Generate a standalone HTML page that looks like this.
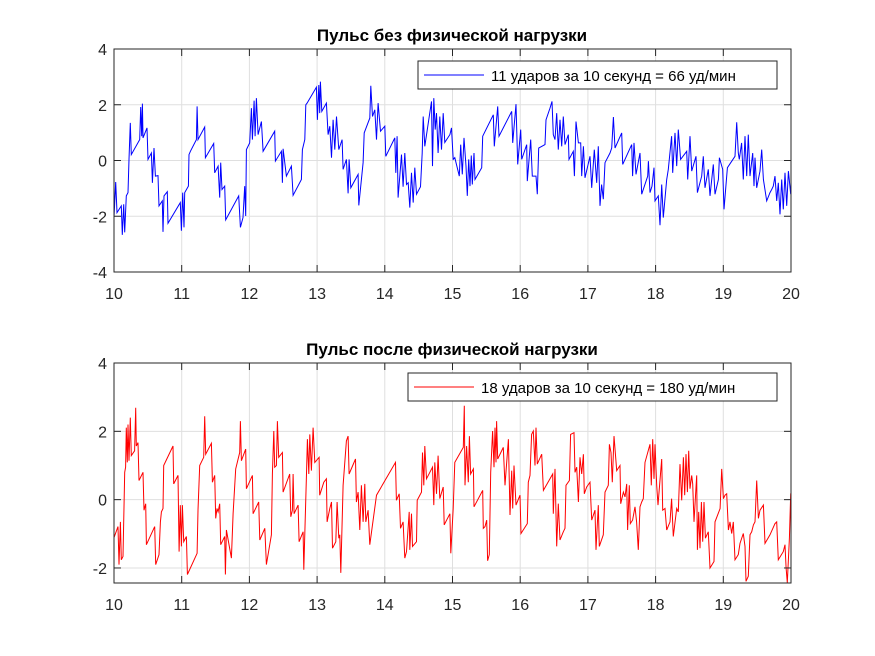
<!DOCTYPE html>
<html><head><meta charset="utf-8"><style>
body{margin:0;background:#fff;}
svg{display:block;font-family:"Liberation Sans",sans-serif;}
</style></head><body>
<svg id="fig" width="875" height="656" viewBox="0 0 875 656" xmlns="http://www.w3.org/2000/svg">
<rect width="875" height="656" fill="#fff"/>
</svg>
<script>
const xTicks=[10,11,12,13,14,15,16,17,18,19,20];
const topYTicks=[-4,-2,0,2,4];
const botYTicks=[-2,0,2,4];
const topT=[10.000,10.025,10.044,10.108,10.123,10.143,10.158,10.182,10.207,10.222,10.241,10.256,10.379,10.394,10.409,10.419,10.429,10.488,10.502,10.552,10.567,10.591,10.611,10.650,10.665,10.714,10.724,10.739,10.788,10.798,10.980,10.995,11.015,11.034,11.044,11.099,11.108,11.128,11.217,11.227,11.241,11.340,11.350,11.473,11.488,11.537,11.562,11.576,11.596,11.635,11.650,11.842,11.867,11.906,11.931,11.946,11.956,12.005,12.030,12.044,12.069,12.084,12.103,12.128,12.177,12.202,12.374,12.384,12.473,12.488,12.498,12.547,12.621,12.645,12.768,12.783,12.818,12.833,12.852,12.990,13.005,13.025,13.039,13.049,13.069,13.138,13.163,13.187,13.212,13.236,13.261,13.286,13.320,13.369,13.384,13.433,13.458,13.473,13.498,13.606,13.616,13.680,13.695,13.778,13.793,13.818,13.852,13.877,13.901,13.936,14.000,14.015,14.148,14.163,14.182,14.197,14.246,14.271,14.296,14.320,14.345,14.369,14.394,14.419,14.443,14.468,14.527,14.552,14.567,14.591,14.690,14.704,14.724,14.744,14.764,14.788,14.813,14.837,14.862,14.887,14.961,14.985,15.010,15.034,
15.101,15.121,15.145,15.170,15.199,15.219,15.239,15.258,15.278,15.293,15.318,15.332,15.431,15.446,15.603,15.618,15.667,15.687,15.874,15.889,15.938,15.963,16.007,16.022,16.096,16.105,16.155,16.179,16.233,16.253,16.273,16.366,16.381,16.440,16.470,16.489,16.514,16.539,16.563,16.588,16.613,16.637,16.662,16.711,16.721,16.785,16.800,16.824,16.859,16.893,16.908,16.933,16.957,17.031,17.056,17.095,17.130,17.154,17.179,17.203,17.228,17.253,17.326,17.351,17.376,17.400,17.499,17.514,17.647,17.661,17.681,17.711,17.770,17.794,17.883,17.893,17.917,17.947,17.976,17.991,18.040,18.065,18.090,18.114,18.164,18.188,18.237,18.252,18.287,18.311,18.336,18.370,18.459,18.474,18.508,18.533,18.597,18.617,18.681,18.705,18.730,18.779,18.804,18.853,18.878,18.927,18.942,18.991,19.011,19.060,19.173,19.198,19.222,19.237,19.271,19.296,19.321,19.345,19.370,19.395,19.434,19.454,19.468,19.493,19.542,19.567,19.592,19.641,19.690,19.715,19.739,19.764,19.789,19.813,19.838,19.863,19.887,19.912,19.937,19.961,19.996,20.010];
const topV=[-2.05,-0.77,-1.87,-1.63,-2.67,-1.57,-2.58,-1.27,-1.15,0.04,1.35,0.21,0.75,1.92,0.87,2.04,0.81,1.17,0.04,0.27,-0.80,0.45,-0.56,-0.54,-1.63,-1.45,-2.56,-1.27,-1.12,-2.25,-1.51,-2.52,-1.15,-2.40,-1.15,-0.92,0.21,0.33,0.75,1.94,0.75,1.20,0.10,0.61,-0.44,-0.20,-1.33,-0.08,-1.04,-0.92,-2.13,-1.27,-2.40,-2.05,-0.92,-1.99,0.39,0.63,1.88,0.75,2.15,0.87,2.24,0.93,1.40,0.33,1.05,-0.02,0.33,-0.80,0.42,-0.56,-0.20,-1.25,-0.68,0.39,0.75,2.00,2.06,2.63,1.46,2.71,1.70,2.83,1.76,2.06,0.93,1.23,0.10,1.46,0.39,1.58,0.39,0.75,-0.32,0.04,-1.18,0.04,-0.98,-0.50,-1.61,-0.08,0.99,1.52,2.68,1.58,1.82,0.75,2.06,1.05,1.23,0.15,0.81,-0.44,0.87,-1.33,0.21,-0.94,0.27,-0.86,-0.80,-1.69,-0.44,-1.51,-0.26,-1.21,-0.94,0.27,1.58,0.51,2.12,-0.20,2.24,1.11,1.70,0.27,1.58,0.39,1.70,0.65,0.93,1.17,0.04,0.10,
-0.56,0.57,-0.50,0.81,-0.20,-1.27,0.04,-0.92,0.18,-0.86,0.27,-0.68,-0.26,0.87,1.64,0.51,1.94,0.87,1.76,0.63,2.02,-0.14,1.11,0.04,0.57,-0.74,0.75,-0.56,-0.56,-1.21,0.45,0.57,1.46,1.88,2.12,0.93,0.75,1.70,0.39,1.46,0.51,1.58,0.57,0.93,0.04,0.33,-0.56,1.40,0.63,0.63,-0.56,0.51,-0.62,0.15,-0.98,0.39,-0.80,0.51,-1.63,-0.86,-1.39,-0.08,0.27,0.45,1.56,0.45,0.99,-0.14,0.57,-0.56,0.63,-0.50,0.27,-1.21,-0.56,-0.02,-1.15,-0.92,-0.26,-1.45,-1.27,-2.32,-0.86,-2.05,-0.68,-0.32,0.87,-0.44,0.99,-0.20,1.11,0.04,0.33,-0.68,0.87,-0.38,0.15,-1.15,-0.56,0.15,-0.98,-0.32,-1.27,-0.14,-1.21,-0.68,0.10,-0.32,-1.75,-0.26,0.15,1.37,0.27,0.04,0.63,-0.68,0.87,-0.56,0.93,-0.56,0.27,-0.92,0.10,-0.98,-0.38,0.39,-0.68,-1.45,-1.15,-1.04,-0.92,-0.56,-1.45,-0.80,-1.93,-0.68,-1.75,-0.44,-1.63,-0.38,-1.21,-0.08];
const botT=[10.000,10.059,10.074,10.094,10.108,10.133,10.158,10.172,10.182,10.197,10.207,10.222,10.241,10.256,10.305,10.320,10.330,10.355,10.369,10.429,10.443,10.468,10.478,10.601,10.616,10.665,10.685,10.700,10.724,10.734,10.872,10.882,10.946,10.961,10.980,10.995,11.010,11.030,11.069,11.084,11.227,11.241,11.266,11.325,11.340,11.355,11.438,11.453,11.488,11.502,11.522,11.537,11.562,11.576,11.635,11.645,11.660,11.734,11.759,11.798,11.857,11.867,11.882,11.946,11.956,12.044,12.054,12.138,12.153,12.227,12.251,12.325,12.340,12.360,12.374,12.399,12.414,12.433,12.488,12.498,12.596,12.611,12.635,12.645,12.660,12.719,12.734,12.793,12.803,12.842,12.857,12.877,12.892,12.916,12.941,12.966,13.030,13.039,13.099,13.138,13.148,13.187,13.212,13.227,13.276,13.296,13.320,13.335,13.350,13.384,13.433,13.458,13.473,13.567,13.581,13.606,13.631,13.655,13.680,13.704,13.719,13.754,13.778,13.877,14.158,14.172,14.212,14.232,14.271,14.296,14.320,14.360,14.369,14.394,14.409,14.468,14.478,14.542,14.557,14.576,14.591,14.616,14.704,14.724,14.739,14.764,14.788,14.813,14.862,14.877,14.961,14.975,15.010,15.034,
15.160,15.175,15.185,15.209,15.234,15.249,15.268,15.308,15.318,15.446,15.455,15.480,15.505,15.519,15.544,15.564,15.593,15.613,15.628,15.643,15.652,15.667,15.751,15.775,15.825,15.849,15.874,15.889,15.908,15.938,15.997,16.012,16.105,16.120,16.145,16.169,16.194,16.219,16.233,16.253,16.317,16.342,16.480,16.489,16.514,16.539,16.563,16.588,16.637,16.662,16.677,16.726,16.745,16.795,16.809,16.834,16.859,16.883,16.908,16.933,16.947,16.982,17.031,17.056,17.105,17.120,17.154,17.169,17.228,17.253,17.302,17.317,17.341,17.361,17.386,17.425,17.474,17.484,17.524,17.548,17.573,17.587,17.612,17.627,17.661,17.696,17.720,17.745,17.770,17.794,17.819,17.844,17.917,17.937,17.957,17.976,17.991,18.016,18.035,18.090,18.105,18.139,18.164,18.213,18.237,18.262,18.311,18.336,18.361,18.385,18.410,18.430,18.449,18.469,18.489,18.508,18.533,18.548,18.567,18.607,18.617,18.636,18.656,18.676,18.695,18.715,18.735,18.779,18.804,18.863,18.878,18.952,18.976,19.001,19.025,19.050,19.075,19.099,19.124,19.148,19.173,19.222,19.247,19.296,19.321,19.336,19.370,19.395,19.419,19.444,19.468,19.493,19.518,19.542,19.592,19.616,19.690,19.764,19.789,19.813,19.887,19.912,19.927,19.946,19.976,19.996,20.010];
const botV=[-1.11,-0.79,-1.90,-0.65,-1.76,-1.66,0.80,0.95,2.11,1.09,2.20,1.14,2.40,1.29,1.43,2.69,1.57,1.67,0.56,0.80,-0.31,-0.12,-1.32,-0.79,-1.90,-1.61,-0.65,-0.36,-0.26,1.00,1.57,0.46,0.71,-1.52,-0.16,-1.37,-0.16,-1.23,-1.08,-2.19,-1.57,-0.31,1.00,1.24,2.44,1.33,1.65,0.51,0.71,-0.55,-0.26,-0.36,-0.12,-1.32,-1.08,-2.19,-0.89,-1.71,-0.41,0.90,1.38,2.30,1.14,1.48,0.32,0.71,-0.41,-0.07,-1.18,-0.84,-1.90,-1.03,0.75,2.01,0.95,1.00,2.30,1.24,1.38,0.22,0.75,-0.50,-0.31,0.75,-0.41,-0.16,-1.23,-0.94,-2.05,0.66,1.77,0.75,1.91,0.85,2.11,1.09,1.24,0.13,0.51,0.61,-0.65,-0.26,-0.07,-1.42,-1.23,-0.07,-1.13,-1.03,-2.14,0.42,1.72,1.86,0.75,1.19,-0.07,0.22,-0.89,0.42,-0.65,0.46,-0.65,-0.31,-1.32,0.13,1.09,-0.02,0.17,-0.84,-0.65,-1.71,-1.52,-0.36,-1.47,-0.41,-1.37,-1.23,-0.02,0.22,1.38,0.42,1.57,0.61,0.95,-0.16,1.09,0.17,1.29,0.03,0.37,-0.74,-0.41,-1.57,-0.26,1.09,
1.53,2.75,0.42,1.57,0.51,1.86,0.75,0.90,-0.21,0.27,-0.84,-0.79,-0.60,-1.79,-1.61,0.80,2.01,0.95,2.11,1.09,2.30,1.19,1.53,0.42,1.77,-0.45,0.85,-0.26,1.00,-0.16,0.13,-0.99,-0.70,0.51,0.71,1.91,2.01,1.00,2.11,1.04,1.33,0.27,0.75,-0.41,0.90,-1.37,-0.12,-1.18,-0.94,-0.84,0.42,0.56,1.91,1.96,0.80,0.95,-0.07,1.24,0.75,1.33,0.17,0.37,0.51,-0.60,-0.31,-1.47,-0.16,-1.37,-1.03,0.22,0.42,1.62,1.38,0.51,1.86,0.85,1.00,-0.12,0.22,0.08,0.46,-0.89,0.42,-0.70,-0.60,-0.21,-0.65,-1.47,-0.21,-0.07,0.03,1.09,1.62,0.42,1.77,0.61,1.62,0.42,-0.16,1.19,-0.31,-0.26,-0.89,-0.65,0.03,-1.08,-0.26,-0.36,1.04,-0.02,1.24,0.13,1.33,0.22,1.43,0.32,0.71,0.46,-0.65,0.71,-1.47,-0.36,-1.42,-0.07,-1.23,-0.07,-1.13,-0.94,-2.00,-1.81,-0.65,-0.26,0.90,0.03,0.13,0.17,-0.89,-0.65,-0.99,-0.65,-1.76,-1.61,-1.28,-0.99,-1.37,-2.39,-2.24,-1.03,-0.94,-0.74,-0.65,0.56,-0.55,-0.31,-0.16,-1.28,-1.03,-0.70,-0.65,-1.76,-1.52,-1.32,-2.00,-2.43,-1.13,0.17,0.22];

const NS='http://www.w3.org/2000/svg';
const svg=document.getElementById('fig');
function mk(tag,attrs,parent){const e=document.createElementNS(NS,tag);for(const k in attrs)e.setAttribute(k,attrs[k]);(parent||svg).appendChild(e);return e;}

function panel(cfg){
  const g=mk('g',{});
  
  
  const L=114,R=791,T=cfg.top,B=cfg.bottom;
  const xs=t=>L+(t-10)/10*(R-L);
  const ys=v=>B-(v-cfg.ymin)/(cfg.ymax-cfg.ymin)*(B-T);
  // grid
  xTicks.forEach(t=>{const l=mk('line',{x1:xs(t),x2:xs(t),y1:T,y2:B,stroke:'#dfdfdf','stroke-width':1},g);
    });
  cfg.yticks.forEach(v=>{const l=mk('line',{x1:L,x2:R,y1:ys(v),y2:ys(v),stroke:'#dfdfdf','stroke-width':1},g);
    });
  // clip
  const cid='clip'+cfg.name;
  const cp=mk('clipPath',{id:cid},g);mk('rect',{x:L,y:T,width:R-L,height:B-T},cp);
  let d='';cfg.t.forEach((t,i)=>{d+=(i?'L':'M')+xs(t).toFixed(1)+' '+ys(cfg.v[i]).toFixed(1);});
  const p=mk('path',{d:d,fill:'none',stroke:cfg.color,'stroke-width':1,'clip-path':'url(#'+cid+')'},g);
  
  
  // box
  const box=mk('rect',{x:L,y:T,width:R-L,height:B-T,fill:'none',stroke:'#262626','stroke-width':1},g);
  
  xTicks.forEach(t=>{
    mk('line',{x1:xs(t),x2:xs(t),y1:B,y2:B-7,stroke:'#262626'},g);
    mk('line',{x1:xs(t),x2:xs(t),y1:T,y2:T+7,stroke:'#262626'},g);
    const tx=mk('text',{x:xs(t),y:B+27,'text-anchor':'middle','font-size':16,fill:'#262626'},g);
    tx.textContent=t;
    
  });
  cfg.yticks.forEach(v=>{
    mk('line',{x1:L,x2:L+7,y1:ys(v),y2:ys(v),stroke:'#262626'},g);
    mk('line',{x1:R,x2:R-7,y1:ys(v),y2:ys(v),stroke:'#262626'},g);
    const tx=mk('text',{x:L-7,y:ys(v)+6,'text-anchor':'end','font-size':16,fill:'#262626'},g);
    tx.textContent=v;
    
  });
  const ti=mk('text',{x:452,y:T-8,'text-anchor':'middle','font-size':17,'font-weight':'bold',fill:'#000'},g);
  ti.textContent=cfg.title;
  
  const lg=mk('g',{},g);
  
  mk('rect',{x:cfg.lx,y:cfg.ly,width:777-cfg.lx,height:28,fill:'#fff',stroke:'#262626'},lg);
  mk('line',{x1:cfg.lx+6,x2:cfg.lx+66,y1:cfg.ly+14,y2:cfg.ly+14,stroke:cfg.color},lg);
  const lt=mk('text',{x:cfg.lx+73,y:cfg.ly+20,'font-size':15,fill:'#000'},lg);
  lt.textContent=cfg.legend;
  
}
panel({name:'top-panel',seriesName:'pulse-rest-line',top:49,bottom:272,ymin:-4,ymax:4,yticks:topYTicks,t:topT,v:topV,color:'#0000ff',
  title:'Пульс без физической нагрузки',legend:'11 ударов за 10 секунд = 66 уд/мин',lx:418,ly:61});
panel({name:'bottom-panel',seriesName:'pulse-exercise-line',top:363,bottom:583,ymin:-2.44,ymax:4,yticks:botYTicks,t:botT,v:botV,color:'#ff0000',
  title:'Пульс после физической нагрузки',legend:'18 ударов за 10 секунд = 180 уд/мин',lx:408,ly:373});
</script>
</body></html>
